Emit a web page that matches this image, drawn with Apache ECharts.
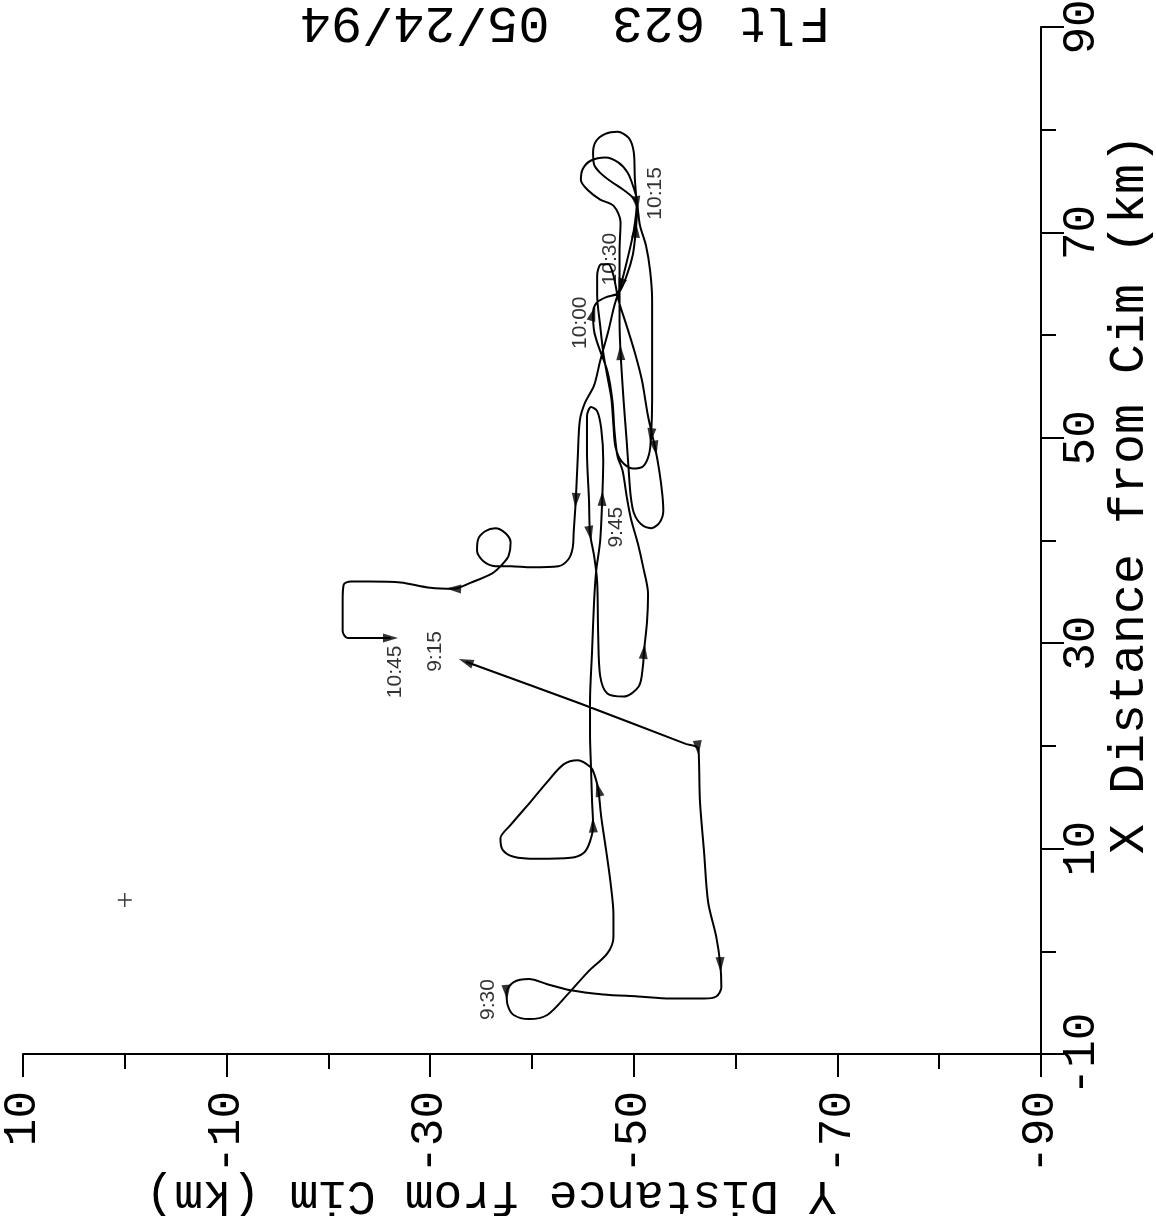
<!DOCTYPE html>
<html><head><meta charset="utf-8">
<script src="https://cdn.jsdelivr.net/npm/echarts@6/dist/echarts.min.js"></script>
<style>html,body{margin:0;padding:0;background:#fff}#c{width:1156px;height:1216px}</style>
</head><body><div id="c"></div>
<script>
// ---- data (km) ----
const trackY = [-33.5,-44.8,-55.1,-56.3,-56.4,-56.5,-56.9,-57.3,-58.1,-58.5,-58.6,-58.1,
-56.9,-53.6,-50.4,-47.0,-43.8,-41.5,-39.7,-38.2,-37.5,-37.6,
-38.2,-39.7,-41.5,-43.5,-45.5,-47.4,-48.0,-48.0,-47.7,-47.3,
-46.8,-46.5,-46.1,-45.8,-44.5,-43.1,-41.5,-39.9,-37.9,-36.9,
-37.1,-38.2,-40.5,-43.8,-45.1,-45.7,-46.0,-45.9,-45.8,-45.7,
-45.7,-45.9,-46.1,-46.3,-46.7,-46.9,-47.0,-46.8,-46.4,-45.8,
-45.4,-45.4,-45.6,-45.7,-46.1,-46.4,-46.5,-46.7,-47.4,-49.0,
-50.5,-50.9,-51.0,-51.3,-51.4,-50.9,-50.4,-49.7,-49.3,-48.9,
-48.4,-48.1,-47.9,-47.4,-46.5,-46.1,-46.0,-46.3,-47.3,-48.5,
-49.3,-49.9,-50.2,-50.3,-50.1,-50.0,-49.5,-48.4,-47.2,-46.3,
-46.0,-46.1,-46.7,-47.7,-48.9,-49.9,-50.3,-50.6,-51.2,-51.6,
-51.8,-51.8,-51.8,-51.7,-51.5,-50.9,-49.9,-48.8,-48.2,-48.0,
-47.8,-47.4,-47.0,-46.7,-46.4,-46.4,-46.8,-47.5,-48.0,-48.5,
-49.3,-50.1,-50.8,-51.4,-52.1,-52.5,-52.8,-52.9,-52.5,-51.7,
-50.7,-50.0,-49.7,-49.5,-49.3,-49.0,-48.7,-48.6,-48.6,-48.6,
-48.7,-48.0,-46.7,-45.5,-44.8,-45.0,-45.8,-47.2,-48.5,-49.4,
-50.0,-50.3,-50.0,-49.3,-48.7,-48.1,-47.5,-46.7,-46.1,-45.2,
-44.7,-44.5,-44.3,-44.1,-44.0,-43.6,-42.6,-39.9,-37.9,-36.4,
-35.2,-34.6,-34.7,-35.4,-36.4,-37.4,-37.9,-37.7,-37.1,-36.1,
-34.0,-32.3,-30.0,-27.1,-24.1,-22.2,-21.5,-21.4,-21.4,-21.9,
-26.1];
const trackX = [28.2,24.1,20.2,19.8,18.7,14.6,9.7,4.8,1.4,-1.3,-3.5,-4.4,
-4.6,-4.6,-4.4,-4.2,-3.8,-3.2,-2.7,-3.0,-4.0,-5.2,
-6.2,-6.6,-6.2,-4.2,-2.0,-0.2,1.4,3.6,6.8,9.7,
13.1,15.8,17.3,17.9,18.6,18.2,16.5,14.6,12.3,11.0,
9.9,9.2,9.0,9.1,9.6,10.7,12.3,14.6,17.8,21.1,
24.3,29.2,34.1,37.0,40.0,44.1,47.8,50.9,52.6,53.0,
52.1,48.7,43.9,40.7,38.5,36.0,30.9,26.8,25.1,24.8,
25.8,27.8,29.2,32.1,34.8,37.5,39.7,42.2,44.3,46.8,
48.2,50.7,53.6,56.5,59.0,60.4,62.1,63.1,63.7,64.1,
65.8,67.8,70.2,72.1,75.3,77.8,79.2,79.8,79.6,78.9,
77.8,76.6,75.8,75.0,74.2,73.4,72.8,70.7,68.7,66.3,
63.4,58.5,53.6,50.2,48.4,47.2,47.0,47.7,49.1,51.2,
53.8,56.0,58.3,60.9,63.9,65.8,66.9,66.9,65.8,63.4,
60.9,58.3,55.6,52.1,49.0,46.8,44.5,42.9,41.7,41.2,
41.6,42.7,44.3,46.8,49.7,53.6,58.3,61.4,64.8,68.2,
71.0,72.6,73.2,74.1,75.1,76.2,77.0,77.3,76.8,75.8,
74.3,73.1,70.2,67.1,64.8,62.9,60.4,57.5,55.1,53.4,
51.7,48.2,43.9,40.9,39.3,38.2,37.5,37.4,37.5,37.5,
38.0,39.0,40.1,40.9,41.2,40.7,39.8,38.5,37.7,36.8,
35.9,35.3,35.4,35.9,36.0,36.0,35.7,34.1,31.2,30.5,
30.5];
const arrowIdx = [0,3,9,20,33,48,57,65,74,88,94,108,115,136,148,166,174,193,202];
const timeLabels = ['9:15','9:30','9:45','10:00','10:15','10:30','10:45'];
const timeLabelX = [29.2,-4.7,41.3,61.2,73.8,67.4,27.2];
const timeLabelY = [-30.5,-35.7,-48.3,-44.7,-52.1,-47.7,-26.6];
const cimX = [5];
const cimY = [0];
const xTicks = [-10,10,30,50,70,90];
const yTicks = [10,-10,-30,-50,-70,-90];
const titleText = 'Flt 623  05/24/94';
const xName = 'X Distance from Cim (km)';
const yName = 'Y Distance from Cim (km)';

// ---- chart ----
const MONO = '"Liberation Mono", "DejaVu Sans Mono", monospace';
const INK = '#000';
const chart = echarts.init(document.getElementById('c'), null, {renderer:'canvas'});
const trackData = trackY.map((y,i)=>[y, trackX[i]]);

const baseAxis = (extra) => Object.assign({
  type:'value', splitLine:{show:false}, scale:false
}, extra);
const line = (show) => ({show:show, onZero:false, lineStyle:{color:INK, width:2}});

const option = {
  animation:false,
  backgroundColor:'#fff',
  grid:{left:23, right:115, top:27, bottom:162, containLabel:false, outerBoundsMode:'none'},
  xAxis:[
    baseAxis({min:-90, max:10, interval:10, inverse:true, position:'bottom',
      axisLine:line(true),
      axisTick:{show:true, length:15, lineStyle:{color:INK, width:2}},
      axisLabel:{show:false}}),
    baseAxis({min:-90, max:10, inverse:true, position:'bottom',
      axisLine:line(false),
      axisTick:{show:true, length:23, customValues:yTicks, lineStyle:{color:INK, width:2}},
      axisLabel:{show:true, customValues:yTicks, rotate:90, margin:37,
        fontFamily:MONO, fontSize:46, color:INK}})
  ],
  yAxis:[
    baseAxis({min:-10, max:90, interval:10, position:'right',
      axisLine:line(true),
      axisTick:{show:true, length:15, lineStyle:{color:INK, width:2}},
      axisLabel:{show:false}}),
    baseAxis({min:-10, max:90, position:'right',
      axisLine:line(false),
      axisTick:{show:true, length:23, customValues:xTicks, lineStyle:{color:INK, width:2}},
      axisLabel:{show:true, customValues:xTicks, rotate:90, margin:18,
        fontFamily:MONO, fontSize:46, color:INK}})
  ],
  series:[
    {type:'line', xAxisIndex:0, yAxisIndex:0, data:trackData, showSymbol:false, smooth:0.3,
      lineStyle:{color:INK, width:2}, silent:true, z:3},
    {type:'scatter', xAxisIndex:0, yAxisIndex:0, data:[], symbol:'triangle', symbolSize:[9,15],
      itemStyle:{color:INK}, z:4},
    {type:'scatter', xAxisIndex:0, yAxisIndex:0, data:cimY.map((y,i)=>[y,cimX[i]]),
      symbol:'path://M9,0h2v9h9v2h-9v9h-2v-9h-9v-2h9z', symbolSize:14, itemStyle:{color:INK}},
    {type:'scatter', xAxisIndex:0, yAxisIndex:0,
      data:timeLabels.map((t,i)=>({name:t, value:[timeLabelY[i], timeLabelX[i]]})),
      symbolSize:0,
      label:{show:true, formatter:'{b}', position:'inside', rotate:90,
        fontFamily:'"Liberation Sans", Arial, sans-serif', fontSize:21, color:INK}}
  ],
  graphic:[
    {type:'text', x:565, y:22, rotation:Math.PI,
      style:{text:titleText, fontFamily:MONO, fontSize:52, fill:INK,
        textAlign:'center', align:'center', textVerticalAlign:'middle', verticalAlign:'middle'}},
    {type:'text', x:1130, y:494, rotation:Math.PI/2,
      style:{text:xName, fontFamily:MONO, fontSize:50, fill:INK,
        textAlign:'center', align:'center', textVerticalAlign:'middle', verticalAlign:'middle'}},
    {type:'text', x:491, y:1195, rotation:Math.PI,
      style:{text:yName, fontFamily:MONO, fontSize:48, fill:INK,
        textAlign:'center', align:'center', textVerticalAlign:'middle', verticalAlign:'middle'}}
  ]
};
chart.setOption(option);

// arrowheads oriented along the track
const px = trackData.map(d => chart.convertToPixel({seriesIndex:0}, d));
const n = px.length;
const arrows = arrowIdx.map(i => {
  let a, b;
  if (i === 0) { a = px[1]; b = px[0]; }
  else if (i === n-1) { a = px[n-2]; b = px[n-1]; }
  else { a = px[i]; b = px[i+1]; }
  const ang = Math.atan2(-(b[1]-a[1]), b[0]-a[0]) * 180 / Math.PI;
  return {value: trackData[i], symbolRotate: ang - 90};
});
chart.setOption({series:[{}, {data: arrows}]});
</script>
</body></html>
